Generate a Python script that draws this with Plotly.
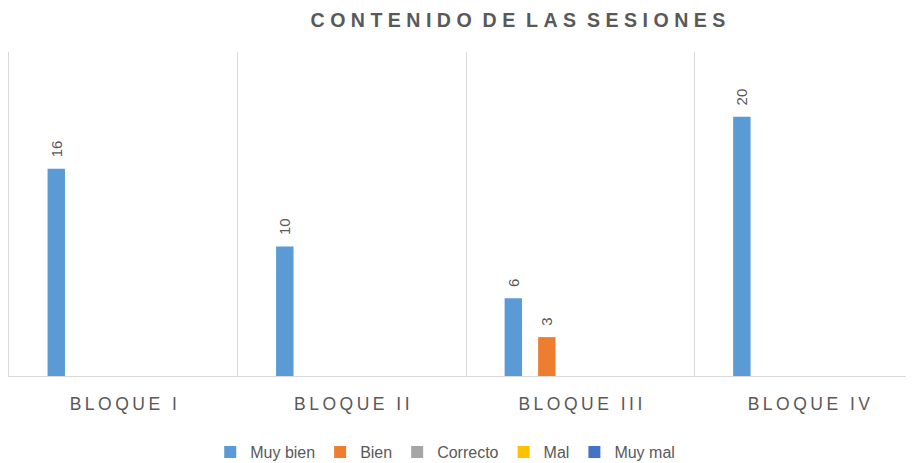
import plotly.graph_objects as go

categories = ["BLOQUE I", "BLOQUE II", "BLOQUE III", "BLOQUE IV"]
series_names = ["Muy bien", "Bien", "Correcto", "Mal", "Muy mal"]
muy_bien = [16, 10, 6, 20]
bien = [None, None, 3, None]
correcto = [None, None, None, None]
mal = [None, None, None, None]
muy_mal = [None, None, None, None]
series_values = [muy_bien, bien, correcto, mal, muy_mal]
series_colors = ["#5B9BD5", "#ED7D31", "#A5A5A5", "#FFC000", "#4472C4"]

TEXT_GREY = "#595959"
GRID_GREY = "#D9D9D9"
FONT = "Arial, Liberation Sans, sans-serif"
NBSP = "\u00a0"
THIN = "\u2009"

# the page body keeps its default 8px margin, so the figure is drawn 8px
# smaller and everything is placed relative to that offset
WIDTH, HEIGHT = 906, 455


def _spaced(text: str, gap: str, word_gap: str) -> str:
    """Fake Excel's expanded letter spacing with extra space characters."""
    return word_gap.join(gap.join(word) for word in text.split(" "))


def _label(value):
    if value is None:
        return None
    return NBSP * 2 + str(value)


fig = go.Figure()
for name, values, color in zip(series_names, series_values, series_colors):
    fig.add_trace(
        go.Bar(
            x=categories,
            y=values,
            name=name,
            marker={"color": color, "line": {"width": 0}},
            text=[_label(v) for v in values],
            textposition="outside",
            textangle=-90,
            constraintext="none",
            cliponaxis=False,
            textfont={"family": FONT, "size": 15, "color": TEXT_GREY},
        )
    )

fig.update_layout(
    width=WIDTH,
    height=HEIGHT,
    margin={"l": 1, "r": 0, "t": 44, "b": 87, "autoexpand": False},
    paper_bgcolor="white",
    plot_bgcolor="white",
    barmode="group",
    bargap=0.267,
    bargroupgap=0.48,
    font={"family": FONT, "color": TEXT_GREY},
    title={
        "text": _spaced("CONTENIDO DE LAS SESIONES", NBSP, NBSP * 2),
        "x": 0.5624,
        "xref": "paper",
        "xanchor": "center",
        "y": 1 - 12 / HEIGHT,
        "yanchor": "middle",
        "font": {"family": FONT, "size": 19.6, "color": TEXT_GREY, "weight": "bold"},
    },
    legend={
        "orientation": "h",
        "x": 0.482,
        "xanchor": "center",
        "y": -0.2346,
        "yanchor": "middle",
        "font": {"family": FONT, "size": 16, "color": TEXT_GREY},
        "itemwidth": 30,
        "traceorder": "normal",
    },
    showlegend=True,
)
fig.update_xaxes(
    range=[-0.5, 3.46],
    tickson="boundaries",
    showgrid=True,
    gridcolor=GRID_GREY,
    gridwidth=1,
    showline=True,
    linecolor=GRID_GREY,
    linewidth=1,
    ticks="",
    ticklabelstandoff=12,
    tickvals=categories,
    ticktext=[_spaced(c, THIN, THIN + NBSP + THIN) for c in categories],
    tickfont={"family": FONT, "size": 17.5, "color": TEXT_GREY},
    automargin=False,
    fixedrange=True,
)
fig.update_yaxes(
    range=[0, 25],
    showgrid=False,
    showticklabels=False,
    zeroline=False,
    showline=True,
    linecolor=GRID_GREY,
    linewidth=1,
    automargin=False,
    fixedrange=True,
)

fig.write_html("out.html")
